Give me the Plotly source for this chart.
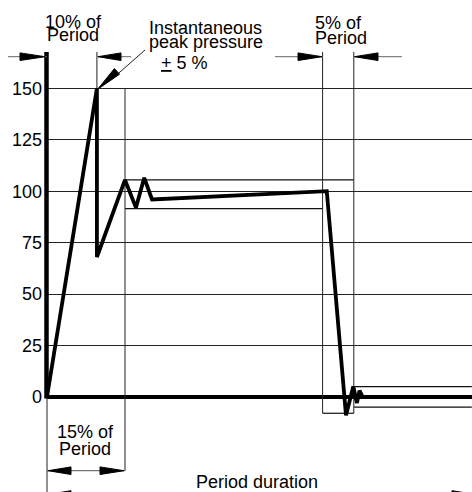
import plotly.graph_objects as go

# ---------------- data ----------------
# Pressure curve: time in % of period, pressure in % of nominal
time_pct = [0, 9.6, 9.6, 15.0, 17.1, 18.7, 20.2, 53.8, 57.5, 58.9, 59.6, 60.1, 60.7, 81.7]
pressure_pct = [0, 150, 68, 105.5, 92, 106.5, 96, 100, -9, 5, -3, 3, 0, 0]

# Tolerance limits (horizontal segments)
limit_start = [15, 15, 53, 59, 59]
limit_end = [59, 53, 59, 81.7, 81.7]
limit_level = [105.5, 91.5, -8, 5, -5]

# Period marks (vertical reference lines)
mark_pct = [9.6, 15, 53, 59]
mark_top = [167.7, 150, 167.7, 167.7]
mark_bottom = [150, -36, -8, -8]

y_ticks = [0, 25, 50, 75, 100, 125, 150]

# ---------------- layout helpers ----------------
W, H = 472, 492
ML = 47
X_RANGE = [0, 81.73]
Y_RANGE = [-46.3, 193.0]
FONT = "Liberation Sans, Arial, sans-serif"


def px(x):
    return (x - ML) / (W - ML)


def py(y):
    return 1 - y / H


def yval_px(v):
    # pixel row of a data value
    return (Y_RANGE[1] - v) / (Y_RANGE[1] - Y_RANGE[0]) * H


shapes = []


def line(x0, y0, x1, y1, width=1, color="#333"):
    shapes.append(dict(type="line", xref="paper", yref="paper",
                       x0=px(x0), y0=py(y0), x1=px(x1), y1=py(y1),
                       line=dict(color=color, width=width)))


def arrowhead(tx, ty, bx, by, half=3.8):
    dx, dy = tx - bx, ty - by
    L = (dx * dx + dy * dy) ** 0.5
    nx, ny = -dy / L * half, dx / L * half
    pts = [(tx, ty), (bx + nx, by + ny), (bx - nx, by - ny)]
    path = "M " + " L ".join(f"{px(a):.5f},{py(b):.5f}" for a, b in pts) + " Z"
    shapes.append(dict(type="path", xref="paper", yref="paper", path=path,
                       fillcolor="black", line=dict(color="black", width=1)))


# axis bar (thick) and its thin extension below zero
line(46.5, 52, 46.5, 398.5, width=4.5, color="black")
line(47, 398, 47, 492, width=1, color="#222")

# top dimension: 10% of period
DY = 56.7
line(8, DY, 47, DY, color="#666")
arrowhead(45, DY, 20, DY)
line(97, DY, 131, DY, color="#666")
arrowhead(98, DY, 121, DY)

# top dimension: 5% of period
line(275, DY, 322.7, DY, color="#666")
arrowhead(322, DY, 298, DY)
line(353.7, DY, 402, DY, color="#666")
arrowhead(354.5, DY, 378, DY)

# bottom dimension: 15% of period
BY = 470.7
line(47, BY, 125, BY, color="#555")
arrowhead(48, BY, 71, BY)
arrowhead(124, BY, 100, BY)

# period duration arrows (cut at bottom edge)
arrowhead(48, 494.5, 71, 494.5)
arrowhead(476, 494.5, 452, 494.5)

# pointer to instantaneous peak
tip_y = yval_px(150)
line(145, 50, 112, 79, width=1, color="#222")
arrowhead(97.5, tip_y + 1, 117, tip_y - 17)

# ---------------- traces ----------------
hx, hy = [], []
for s, e, lv in zip(limit_start, limit_end, limit_level):
    hx += [s, e, None]
    hy += [lv, lv, None]
vx, vy = [], []
for m, t, b in zip(mark_pct, mark_top, mark_bottom):
    vx += [m, m, None]
    vy += [t, b, None]

fig = go.Figure()
fig.add_trace(go.Scatter(x=hx, y=hy, mode="lines", line=dict(color="#111", width=1.2),
                         hoverinfo="skip", showlegend=False))
fig.add_trace(go.Scatter(x=vx, y=vy, mode="lines", line=dict(color="#222", width=1),
                         hoverinfo="skip", showlegend=False))
fig.add_trace(go.Scatter(x=time_pct, y=pressure_pct, mode="lines",
                         line=dict(color="black", width=3.8), showlegend=False))

# ---------------- annotations ----------------
texts = [
    ("10% of", 43, 21.5),
    ("Period", 45, 35.5),
    ("Instantaneous", 147, 27.5),
    ("peak pressure", 147, 42),
    ("<u>+</u> 5 %", 159, 63.5),
    ("5% of", 313, 23),
    ("Period", 313, 38),
    ("15% of", 55, 432),
    ("Period", 57, 448.5),
    ("Period duration", 194, 482),
]
annotations = [dict(text=t, x=px(x), y=py(y), xref="paper", yref="paper",
                    xanchor="left", yanchor="middle", showarrow=False,
                    font=dict(family=FONT, size=18, color="black"))
               for t, x, y in texts]

fig.update_layout(
    width=W, height=H,
    margin=dict(l=ML, r=0, t=0, b=0, pad=0, autoexpand=False),
    paper_bgcolor="white", plot_bgcolor="white",
    showlegend=False,
    shapes=shapes,
    annotations=annotations,
    xaxis=dict(range=X_RANGE, showgrid=False, zeroline=False, showticklabels=False,
               showline=False, ticks="", automargin=False),
    yaxis=dict(range=Y_RANGE, tickvals=y_ticks, showgrid=True, gridcolor="#222",
               gridwidth=1, zeroline=True, zerolinecolor="black", zerolinewidth=3.5,
               ticks="", showline=False, ticklabelstandoff=4, automargin=False,
               tickfont=dict(family=FONT, size=18, color="black")),
)

fig.write_html("out.html", config={"displayModeBar": False},
               post_script="document.body.style.margin='0';document.body.style.overflow='hidden';")
